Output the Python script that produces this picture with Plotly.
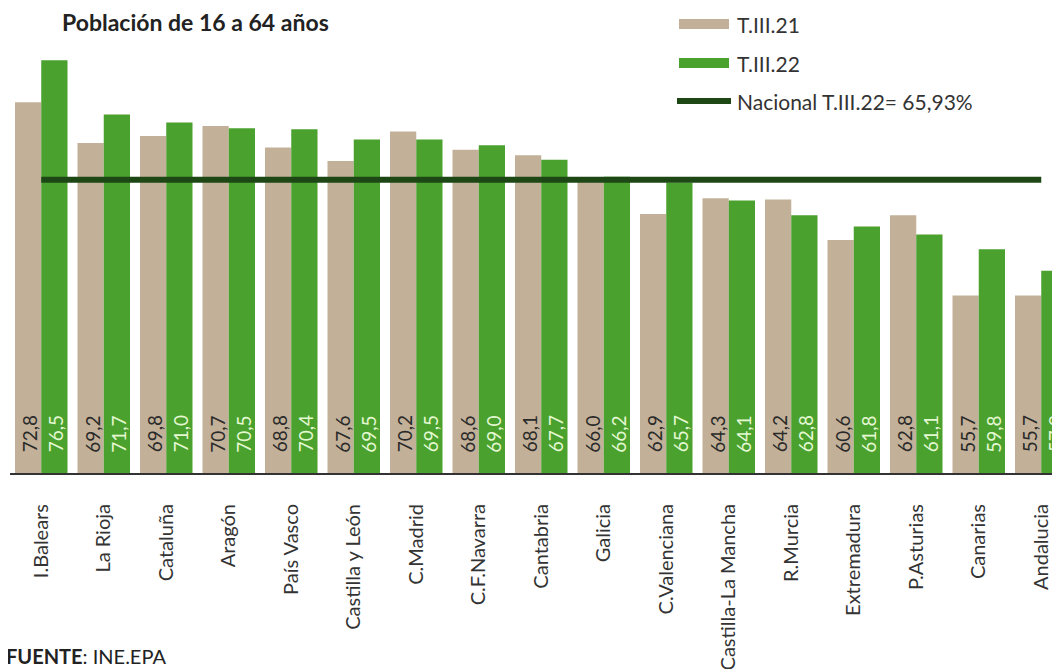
import plotly.graph_objects as go

# ---------------- data ----------------
regions = ["I.Balears", "La Rioja", "Cataluña", "Aragón", "País Vasco", "Castilla y León",
           "C.Madrid", "C.F.Navarra", "Cantabria", "Galicia", "C.Valenciana",
           "Castilla-La Mancha", "R.Murcia", "Extremadura", "P.Asturias", "Canarias", "Andalucia"]
t3_21 = [72.8, 69.2, 69.8, 70.7, 68.8, 67.6, 70.2, 68.6, 68.1, 66.0, 62.9, 64.3, 64.2, 60.6, 62.8, 55.7, 55.7]
t3_22 = [76.5, 71.7, 71.0, 70.5, 70.4, 69.5, 69.5, 69.0, 67.7, 66.2, 65.7, 64.1, 62.8, 61.8, 61.1, 59.8, 57.9]
nacional = 65.93
series_names = ["T.III.21", "T.III.22", "Nacional T.III.22= 65,93%"]
title_text = "Población de 16 a 64 años"
source_text = "<b>FUENTE</b>: INE.EPA"

# ---------------- style ----------------
OFF = 8                      # default page body margin
W, H = 1060 - OFF, 669 - OFF
PLOT_L, PLOT_T, PLOT_B = 10, 40, 473   # page pixels
ML, MR, MT, MB = PLOT_L - OFF, 0, PLOT_T - OFF, H - (PLOT_B - OFF)
Y0, Y1 = 40, 78.3
TAN = "#c2b198"
GREEN = "#4aa12e"
DARK = "#1d4816"
FONT = "Lato"

def fmt(v):
    return f"{v:.1f}".replace(".", ",")

def px_x(px):   # page pixel -> paper x
    return (px - OFF - ML) / (W - ML - MR)

def px_y(py):   # page pixel -> paper y
    return (H - MB - (py - OFF)) / (H - MT - MB)

fig = go.Figure()
fig.add_trace(go.Bar(x=regions, y=t3_21, name=series_names[0], marker_color=TAN,
                     marker_line_width=0))
fig.add_trace(go.Bar(x=regions, y=t3_22, name=series_names[1], marker_color=GREEN,
                     marker_line_width=0))
fig.add_trace(go.Scatter(x=regions, y=[nacional] * len(regions), mode="lines",
                         name=series_names[2], line=dict(color=DARK, width=6)))

annotations = []
for r, a, b in zip(regions, t3_21, t3_22):
    annotations.append(dict(x=r, y=Y0, xref="x", yref="y", text=fmt(a), showarrow=False,
                            textangle=-90, xanchor="center", yanchor="middle",
                            xshift=-12, yshift=39, font=dict(family=FONT, size=19, color="#2a2a2a")))
    annotations.append(dict(x=r, y=Y0, xref="x", yref="y", text=fmt(b), showarrow=False,
                            textangle=-90, xanchor="center", yanchor="middle",
                            xshift=14, yshift=39, font=dict(family=FONT, size=19, color="#e4f8d2")))

# title and source
annotations.append(dict(x=px_x(60), y=px_y(22), xref="paper", yref="paper", text=f"<b>{title_text}</b>",
                        showarrow=False, xanchor="left", yanchor="middle",
                        font=dict(family=FONT, size=23, color="#222")))
annotations.append(dict(x=px_x(4), y=px_y(656), xref="paper", yref="paper", text=source_text,
                        showarrow=False, xanchor="left", yanchor="middle",
                        font=dict(family=FONT, size=20, color="#222")))

# manual legend
shapes = []
legend_rows = [(24, TAN, "rect"), (63, GREEN, "rect"), (101, DARK, "line")]
for (py, col, kind), name in zip(legend_rows, series_names):
    if kind == "rect":
        shapes.append(dict(type="rect", xref="paper", yref="paper",
                           x0=px_x(679), x1=px_x(729), y0=px_y(py + 5), y1=px_y(py - 5),
                           fillcolor=col, line_width=0))
    else:
        shapes.append(dict(type="line", xref="paper", yref="paper",
                           x0=px_x(677), x1=px_x(731), y0=px_y(py), y1=px_y(py),
                           line=dict(color=col, width=6)))
    annotations.append(dict(x=px_x(735), y=px_y(py), xref="paper", yref="paper", text=name,
                            showarrow=False, xanchor="left", yanchor="middle",
                            font=dict(family=FONT, size=21, color="#333")))

fig.update_layout(
    width=W, height=H,
    margin=dict(l=ML, r=MR, t=MT, b=MB, autoexpand=False),
    paper_bgcolor="white", plot_bgcolor="white",
    barmode="group", bargap=0.16, bargroupgap=0,
    showlegend=False,
    annotations=annotations, shapes=shapes,
    xaxis=dict(type="category", range=[-0.5, 16.3], tickangle=-90, automargin=False,
               tickfont=dict(family=FONT, size=20, color="#333"),
               showline=True, linecolor="#333", linewidth=2, ticks="",
               ticklabelstandoff=21, showgrid=False),
    yaxis=dict(range=[Y0, Y1], visible=False, showgrid=False, zeroline=False, automargin=False),
)

fig.write_html("out.html")
